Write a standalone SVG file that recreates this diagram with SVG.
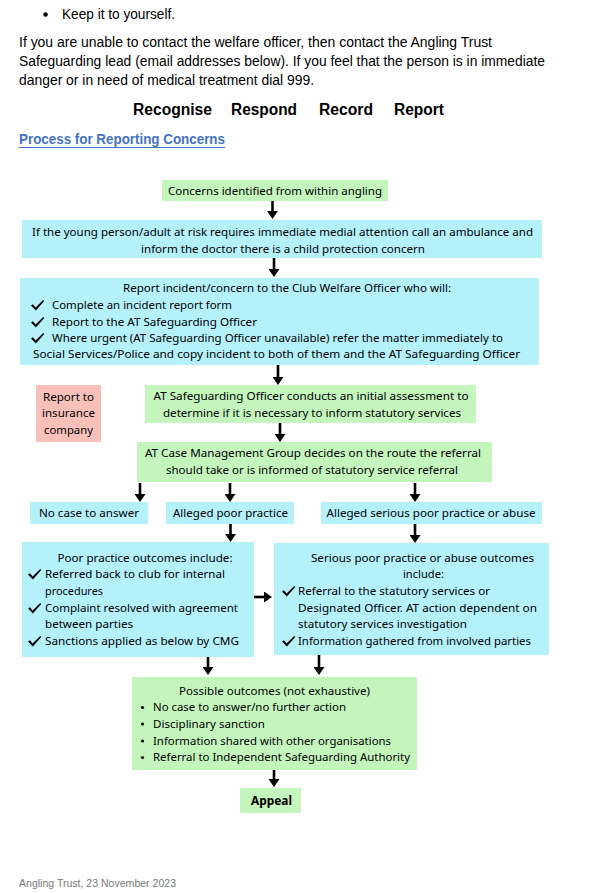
<svg xmlns="http://www.w3.org/2000/svg" width="600" height="893" viewBox="0 0 600 893">
<style>
.body{font-family:"Liberation Sans","Noto Sans",Arial,sans-serif;font-size:14px;fill:#000}
.hd{font-family:"Liberation Sans",Arial,sans-serif;font-size:16px;font-weight:bold;fill:#000}
.lnk{font-family:"Liberation Sans",Arial,sans-serif;font-size:14px;font-weight:bold;fill:#4472C4}
.t{font-family:"Noto Sans","Liberation Sans",Arial,sans-serif;font-size:11.5px;fill:#000}
.c{text-anchor:middle}
.b{font-weight:bold}
.g{fill:#c3f5bc}
.bl{fill:#b4f1fb}
.pk{fill:#f9c0ba}
.ft{font-family:"Liberation Sans",Arial,sans-serif;font-size:10.5px;fill:#7a7a7a}
.ar{stroke:#000;stroke-width:2.6;fill:none;marker-end:url(#ah)}
</style>
<defs>
<marker id="ah" markerWidth="8" markerHeight="11" refX="0" refY="5.5" orient="auto" markerUnits="userSpaceOnUse" viewBox="0 0 8 11">
<path d="M0,0 L8,5.5 L0,11 z" fill="#000"/>
</marker>
<path id="ck" d="M0,5.4 L1.9,4.3 L4.6,7.4 L12.2,0 L13.2,0.9 L4.9,10.4 Z" fill="#000"/>
</defs>
<rect width="600" height="893" fill="#fff"/>

<g id="intro">
<circle cx="45.5" cy="14.5" r="2.3" fill="#000"/>
<text class="body" x="62" y="19" textLength="113" lengthAdjust="spacingAndGlyphs">Keep it to yourself.</text>
<text class="body" x="19" y="47" textLength="473" lengthAdjust="spacingAndGlyphs">If you are unable to contact the welfare officer, then contact the Angling Trust</text>
<text class="body" x="19" y="66" textLength="526" lengthAdjust="spacingAndGlyphs">Safeguarding lead (email addresses below). If you feel that the person is in immediate</text>
<text class="body" x="19" y="85" textLength="295" lengthAdjust="spacingAndGlyphs">danger or in need of medical treatment dial 999.</text>
<text class="hd" x="133" y="115" textLength="79" lengthAdjust="spacingAndGlyphs">Recognise</text>
<text class="hd" x="231" y="115" textLength="66" lengthAdjust="spacingAndGlyphs">Respond</text>
<text class="hd" x="319" y="115" textLength="54" lengthAdjust="spacingAndGlyphs">Record</text>
<text class="hd" x="394" y="115" textLength="50" lengthAdjust="spacingAndGlyphs">Report</text>
<text class="lnk" x="19" y="144" textLength="206" lengthAdjust="spacingAndGlyphs">Process for Reporting Concerns</text>
<line x1="19" y1="147.5" x2="225" y2="147.5" stroke="#4472C4" stroke-width="1"/>
</g>

<g id="n1">
<rect class="g" x="162" y="180" width="226" height="21"/>
<text class="t c" x="275" y="195" textLength="214" lengthAdjust="spacingAndGlyphs">Concerns identified from within angling</text>
</g>

<g id="n2">
<rect class="bl" x="22" y="220" width="520" height="38"/>
<text class="t c" x="282.5" y="236" textLength="501" lengthAdjust="spacingAndGlyphs">If the young person/adult at risk requires immediate medial attention call an ambulance and</text>
<text class="t c" x="283" y="253" textLength="284" lengthAdjust="spacingAndGlyphs">inform the doctor there is a child protection concern</text>
</g>

<g id="n3">
<rect class="bl" x="20" y="278" width="519" height="87"/>
<text class="t c" x="287" y="292" textLength="328" lengthAdjust="spacingAndGlyphs">Report incident/concern to the Club Welfare Officer who will:</text>
<use href="#ck" x="31" y="300"/>
<text class="t" x="52" y="309" textLength="180" lengthAdjust="spacingAndGlyphs">Complete an incident report form</text>
<use href="#ck" x="31" y="317"/>
<text class="t" x="52" y="326" textLength="205" lengthAdjust="spacingAndGlyphs">Report to the AT Safeguarding Officer</text>
<use href="#ck" x="31" y="333"/>
<text class="t" x="52" y="342" textLength="451" lengthAdjust="spacingAndGlyphs">Where urgent (AT Safeguarding Officer unavailable) refer the matter immediately to</text>
<text class="t" x="33" y="358" textLength="487" lengthAdjust="spacingAndGlyphs">Social Services/Police and copy incident to both of them and the AT Safeguarding Officer</text>
</g>

<g id="n4">
<rect class="pk" x="36" y="385" width="65" height="57"/>
<text class="t c" x="68.5" y="401" textLength="51" lengthAdjust="spacingAndGlyphs">Report to</text>
<text class="t c" x="68.5" y="417" textLength="53" lengthAdjust="spacingAndGlyphs">insurance</text>
<text class="t c" x="68.5" y="434" textLength="49" lengthAdjust="spacingAndGlyphs">company</text>
</g>

<g id="n5">
<rect class="g" x="145" y="385" width="331" height="38"/>
<text class="t c" x="311" y="400" textLength="315" lengthAdjust="spacingAndGlyphs">AT Safeguarding Officer conducts an initial assessment to</text>
<text class="t c" x="312" y="417" textLength="298" lengthAdjust="spacingAndGlyphs">determine if it is necessary to inform statutory services</text>
</g>

<g id="n6">
<rect class="g" x="137" y="442" width="355" height="40"/>
<text class="t c" x="313" y="457" textLength="336" lengthAdjust="spacingAndGlyphs">AT Case Management Group decides on the route the referral</text>
<text class="t c" x="312" y="474" textLength="292" lengthAdjust="spacingAndGlyphs">should take or is informed of statutory service referral</text>
</g>

<g id="n7">
<rect class="bl" x="30" y="502" width="118" height="22"/>
<text class="t c" x="89" y="517" textLength="100" lengthAdjust="spacingAndGlyphs">No case to answer</text>
</g>

<g id="n8">
<rect class="bl" x="166" y="502" width="128" height="22"/>
<text class="t c" x="230.5" y="517" textLength="115" lengthAdjust="spacingAndGlyphs">Alleged poor practice</text>
</g>

<g id="n9">
<rect class="bl" x="321" y="502" width="221" height="22"/>
<text class="t c" x="431" y="517" textLength="209" lengthAdjust="spacingAndGlyphs">Alleged serious poor practice or abuse</text>
</g>

<g id="n10">
<rect class="bl" x="22" y="542" width="232" height="115"/>
<text class="t c" x="145" y="562" textLength="175" lengthAdjust="spacingAndGlyphs">Poor practice outcomes include:</text>
<use href="#ck" x="28" y="569"/>
<text class="t" x="45" y="578" textLength="180" lengthAdjust="spacingAndGlyphs">Referred back to club for internal</text>
<text class="t" x="45" y="595" textLength="58" lengthAdjust="spacingAndGlyphs">procedures</text>
<use href="#ck" x="28" y="603"/>
<text class="t" x="45" y="612" textLength="193" lengthAdjust="spacingAndGlyphs">Complaint resolved with agreement</text>
<text class="t" x="45" y="628" textLength="88" lengthAdjust="spacingAndGlyphs">between parties</text>
<use href="#ck" x="28" y="636"/>
<text class="t" x="45" y="645" textLength="194" lengthAdjust="spacingAndGlyphs">Sanctions applied as below by CMG</text>
</g>

<g id="n11">
<rect class="bl" x="274" y="543" width="275" height="112"/>
<text class="t c" x="422.5" y="562" textLength="223" lengthAdjust="spacingAndGlyphs">Serious poor practice or abuse outcomes</text>
<text class="t c" x="423.5" y="578" textLength="41" lengthAdjust="spacingAndGlyphs">include:</text>
<use href="#ck" x="282" y="586"/>
<text class="t" x="298" y="595" textLength="192" lengthAdjust="spacingAndGlyphs">Referral to the statutory services or</text>
<text class="t" x="298" y="612" textLength="239" lengthAdjust="spacingAndGlyphs">Designated Officer. AT action dependent on</text>
<text class="t" x="298" y="628" textLength="169" lengthAdjust="spacingAndGlyphs">statutory services investigation</text>
<use href="#ck" x="282" y="636"/>
<text class="t" x="298" y="645" textLength="233" lengthAdjust="spacingAndGlyphs">Information gathered from involved parties</text>
</g>

<g id="n12">
<rect class="g" x="132" y="677" width="285" height="93"/>
<text class="t c" x="274.5" y="695" textLength="191" lengthAdjust="spacingAndGlyphs">Possible outcomes (not exhaustive)</text>
<circle cx="142.5" cy="707.5" r="1.6" fill="#000"/>
<text class="t" x="153" y="711" textLength="193" lengthAdjust="spacingAndGlyphs">No case to answer/no further action</text>
<circle cx="142.5" cy="724" r="1.6" fill="#000"/>
<text class="t" x="153" y="728" textLength="112" lengthAdjust="spacingAndGlyphs">Disciplinary sanction</text>
<circle cx="142.5" cy="741" r="1.6" fill="#000"/>
<text class="t" x="153" y="745" textLength="238" lengthAdjust="spacingAndGlyphs">Information shared with other organisations</text>
<circle cx="142.5" cy="757.5" r="1.6" fill="#000"/>
<text class="t" x="153" y="761" textLength="257" lengthAdjust="spacingAndGlyphs">Referral to Independent Safeguarding Authority</text>
</g>

<g id="n13">
<rect class="g" x="240" y="788" width="61" height="25"/>
<text class="t c b" x="271.5" y="805" textLength="41" lengthAdjust="spacingAndGlyphs">Appeal</text>
</g>

<g id="connectors">
<line class="ar" x1="272.5" y1="201" x2="272.5" y2="211"/>
<line class="ar" x1="274" y1="258" x2="274" y2="269"/>
<line class="ar" x1="278" y1="365" x2="278" y2="377"/>
<line class="ar" x1="280" y1="423" x2="280" y2="434"/>
<line class="ar" x1="140" y1="483" x2="140" y2="494"/>
<line class="ar" x1="230" y1="483" x2="230" y2="494"/>
<line class="ar" x1="415" y1="483" x2="415" y2="494"/>
<line class="ar" x1="230.5" y1="524" x2="230.5" y2="534"/>
<line class="ar" x1="415" y1="524" x2="415" y2="535"/>
<line class="ar" x1="254" y1="597" x2="264" y2="597"/>
<line class="ar" x1="208" y1="657" x2="208" y2="667"/>
<line class="ar" x1="319" y1="655" x2="319" y2="667"/>
<line class="ar" x1="274" y1="770" x2="274" y2="779"/>
</g>

<text class="ft" x="19" y="887" textLength="157" lengthAdjust="spacingAndGlyphs">Angling Trust, 23 November 2023</text>
</svg>
